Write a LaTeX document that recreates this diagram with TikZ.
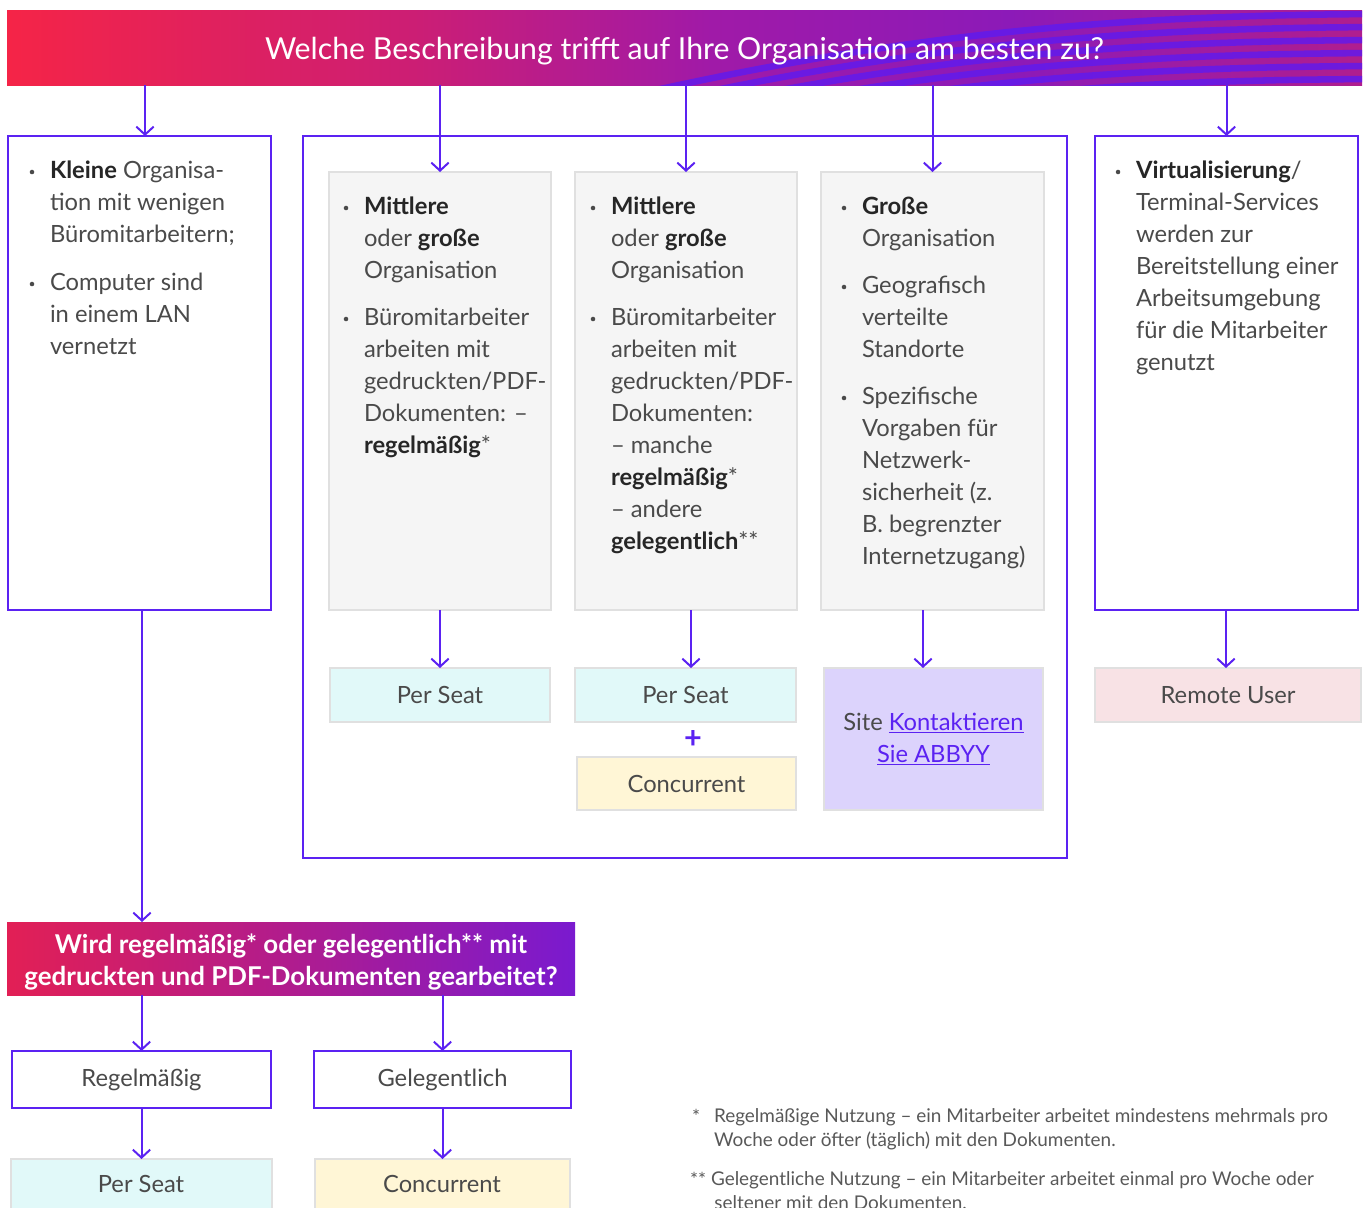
\documentclass[tikz,border=0pt]{standalone}
\usepackage{fontspec}
\setmainfont{Lato}
\newfontfamily\hfont{Lato}
\usetikzlibrary{arrows.meta}
\definecolor{vio}{HTML}{5B22F2}
\definecolor{tdark}{HTML}{4A4A4A}
\definecolor{tbold}{HTML}{262626}
\definecolor{fngray}{HTML}{585858}
\definecolor{gfill}{HTML}{F5F5F5}
\definecolor{gline}{HTML}{E0E0E0}
\definecolor{cyanf}{HTML}{E1F9F9}
\definecolor{yelf}{HTML}{FFF6D6}
\definecolor{lavf}{HTML}{DCD3FC}
\definecolor{pinkf}{HTML}{F8E2E5}
\definecolor{ca}{HTML}{F52447}
\definecolor{cb}{HTML}{CC1E74}
\definecolor{cc}{HTML}{A01AA8}
\definecolor{cd}{HTML}{8C1AB8}
\definecolor{ce}{HTML}{B01E8E}
\definecolor{stripe}{HTML}{5E1AF0}
\definecolor{da}{HTML}{E21F55}
\definecolor{db}{HTML}{B01C8E}
\definecolor{dc}{HTML}{7A1ACF}
\pgfdeclarehorizontalshading{hdrshade}{100bp}{color(0bp)=(ca); color(25bp)=(ca); color(40bp)=(cb); color(51bp)=(cc); color(62bp)=(cd); color(75bp)=(ce); color(100bp)=(ce)}
\pgfdeclarehorizontalshading{qshade}{100bp}{color(0bp)=(da); color(25bp)=(da); color(50bp)=(db); color(75bp)=(dc); color(100bp)=(dc)}
\newcommand\fs{\fontsize{17.8}{24}\selectfont}
\newcommand\bb[1]{\textcolor{tbold}{\textbf{#1}}}
\newcommand\bx[7]{\node[#2, minimum width={(#5-#3)*0.75pt}, minimum height={(#6-#4)*0.75pt}] (#1) at ({(#3+#5)/2},{(#4+#6)/2}) {#7};}
\tikzset{
  vbox/.style={draw=vio, line width=1.5pt, inner sep=0pt, outer sep=0pt, fill=white, font=\fs, text=tdark},
  gbox/.style={draw=gline, line width=1.5pt, fill=gfill, inner sep=0pt, outer sep=0pt},
  rbox/.style={draw=gline, line width=1.5pt, inner sep=0pt, outer sep=0pt, font=\fs, text=tdark, align=center},
  arr/.style={draw=vio, line width=1.5pt, -{Straight Barb[length=6pt,width=13pt]}},
  txt/.style={anchor=north west, inner sep=0pt, outer sep=0pt, align=left, font=\fs, text=tdark},
  fn/.style={anchor=north west, inner sep=0pt, outer sep=0pt, align=left, font=\fontsize{14.2}{17.5}\selectfont, text=fngray},
  bul/.style={fill=tdark}
}
\begin{document}
\begin{tikzpicture}[x=0.75pt,y=-0.75pt]
\useasboundingbox (0,0) rectangle (1366,1207);
% top header
\path[shading=hdrshade] (7,10) rectangle (1362,85);
\begin{scope}
\clip (7,10) rectangle (1362,85);
\foreach \i in {0,...,7}{
  \draw[stripe, line width=4.9pt, opacity=0.8] (560,{112+\i*13}) .. controls (860,{40+\i*12}) and (1080,{14+\i*13}) .. (1400,{14+\i*13});
}
\end{scope}
\bx{hdr}{inner sep=0pt, outer sep=0pt, text=white, font=\hfont\fontsize{22.7}{26}\selectfont}{7}{10}{1362}{85}{\raisebox{-2.6pt}[\height][\depth]{Welche Beschreibung trifft auf Ihre Organisation am besten zu?}}

% left box
\bx{lb}{vbox}{8}{136}{271}{610}{}
\fill[bul] (32,172) circle[radius=1.7pt];
\node[txt] (lt1) at (50,161) {\bb{Kleine} Organisa-\\tion mit wenigen\\Büromitarbeitern;};
\fill[bul] (32,284) circle[radius=1.7pt];
\node[txt] (lt2) at (50,273) {Computer sind\\in einem LAN\\vernetzt};

% container
\bx{cont}{vbox}{303}{136}{1067}{858}{}
% gray boxes
\bx{g1}{gbox}{329}{172}{551}{610}{}
\bx{g2}{gbox}{575}{172}{797}{610}{}
\bx{g3}{gbox}{821}{172}{1044}{610}{}

\fill[bul] (346,208) circle[radius=1.7pt];
\node[txt] (g1a) at (364,197) {\bb{Mittlere}\\oder \bb{große}\\Organisation};
\fill[bul] (346,319) circle[radius=1.7pt];
\node[txt] (g1b) at (364,308) {Büromitarbeiter\\arbeiten mit\\gedruckten/PDF-\\Dokumenten: –\\\bb{regelmäßig}*};

\fill[bul] (593,208) circle[radius=1.7pt];
\node[txt] (g2a) at (611,197) {\bb{Mittlere}\\oder \bb{große}\\Organisation};
\fill[bul] (593,319) circle[radius=1.7pt];
\node[txt] (g2b) at (611,308) {Büromitarbeiter\\arbeiten mit\\gedruckten/PDF-\\Dokumenten:\\– manche\\\bb{regelmäßig}*\\– andere\\\bb{gelegentlich}**};

\fill[bul] (844,208) circle[radius=1.7pt];
\node[txt] (g3a) at (862,197) {\bb{Große}\\Organisation};
\fill[bul] (844,287) circle[radius=1.7pt];
\node[txt] (g3b) at (862,276) {Geografisch\\verteilte\\Standorte};
\fill[bul] (844,398) circle[radius=1.7pt];
\node[txt] (g3c) at (862,387) {Spezifische\\Vorgaben für\\Netzwerk-\\sicherheit (z.\\B. begrenzter\\Internetzugang)};

% right box
\bx{rb}{vbox}{1095}{136}{1358}{610}{}
\fill[bul] (1118,172) circle[radius=1.7pt];
\node[txt] (rt) at (1136,161) {\bb{Virtualisierung}/\\Terminal-Services\\werden zur\\Bereitstellung einer\\Arbeitsumgebung\\für die Mitarbeiter\\genutzt};

% result boxes
\bx{r1}{rbox, fill=cyanf}{330}{668}{550}{722}{Per Seat}
\bx{r2}{rbox, fill=cyanf}{575}{668}{796}{722}{Per Seat}
\node[text=vio, font=\hfont\bfseries\fontsize{23}{24}\selectfont, inner sep=0pt] (plus) at (693,739) {+};
\bx{r2b}{rbox, fill=yelf}{577}{757}{796}{810}{Concurrent}
\bx{r3}{rbox, fill=lavf}{824}{668}{1043}{810}{Site \textcolor{vio}{\underline{Kontaktieren}}\\\textcolor{vio}{\underline{Sie ABBYY}}}
\bx{r4}{rbox, fill=pinkf}{1095}{668}{1361}{722}{Remote User}

% header arrows
\coordinate (a1) at (145,136);
\draw[arr] (hdr.south -| a1) -- (a1);
\draw[arr] (hdr.south -| g1.north) -- (g1.north);
\draw[arr] (hdr.south -| g2.north) -- (g2.north);
\draw[arr] (hdr.south -| g3.north) -- (g3.north);
\draw[arr] (hdr.south -| rb.north) -- (rb.north);
% box to result arrows
\draw[arr] (g1.south) -- (r1.north);
\coordinate (a2) at (691,640);
\draw[arr] (g2.south -| a2) -- (r2.north -| a2);
\coordinate (a3) at (923,640);
\draw[arr] (g3.south -| a3) -- (r3.north -| a3);
\coordinate (a5) at (1226,640);
\draw[arr] (rb.south -| a5) -- (r4.north -| a5);

% second question
\path[shading=qshade] (7,922) rectangle (575,995);
\bx{q}{inner sep=0pt, outer sep=0pt, text=white, align=center, font=\hfont\bfseries\fontsize{19.4}{24}\selectfont}{7}{922}{575}{995}{\raisebox{-3.6pt}[\height][\depth]{\begin{tabular}{@{}c@{}}Wird regelmäßig* oder gelegentlich** mit\\gedruckten und PDF-Dokumenten gearbeitet?\end{tabular}}}
\coordinate (a4) at (142,700);
\draw[arr] (lb.south -| a4) -- (q.north -| a4);

\bx{s1}{vbox}{12}{1051}{271}{1108}{Regelmäßig}
\bx{s2}{vbox}{314}{1051}{571}{1108}{Gelegentlich}
\draw[arr] (q.south -| s1.north) -- (s1.north);
\draw[arr] (q.south -| s2.north) -- (s2.north);

\bx{t1}{rbox, fill=cyanf}{11}{1159}{272}{1236}{}
\bx{t2}{rbox, fill=yelf}{315}{1159}{570}{1236}{}
\node[font=\fs, text=tdark] (t1l) at (141,1184) {Per Seat};
\node[font=\fs, text=tdark] (t2l) at (442,1184) {Concurrent};
\draw[arr] (s1.south) -- (t1.north);
\draw[arr] (s2.south) -- (t2.north);

% footnotes
\node[fn] (f1s) at (692,1109) {*};
\node[fn] (f1) at (714,1109) {Regelmäßige Nutzung – ein Mitarbeiter arbeitet mindestens mehrmals pro\\Woche oder öfter (täglich) mit den Dokumenten.};
\node[fn] (f2s) at (690,1172) {**};
\node[fn] (f2) at (711,1172) {Gelegentliche Nutzung – ein Mitarbeiter arbeitet einmal pro Woche oder\\\hspace*{2.5pt}seltener mit den Dokumenten.};
\end{tikzpicture}
\end{document}
